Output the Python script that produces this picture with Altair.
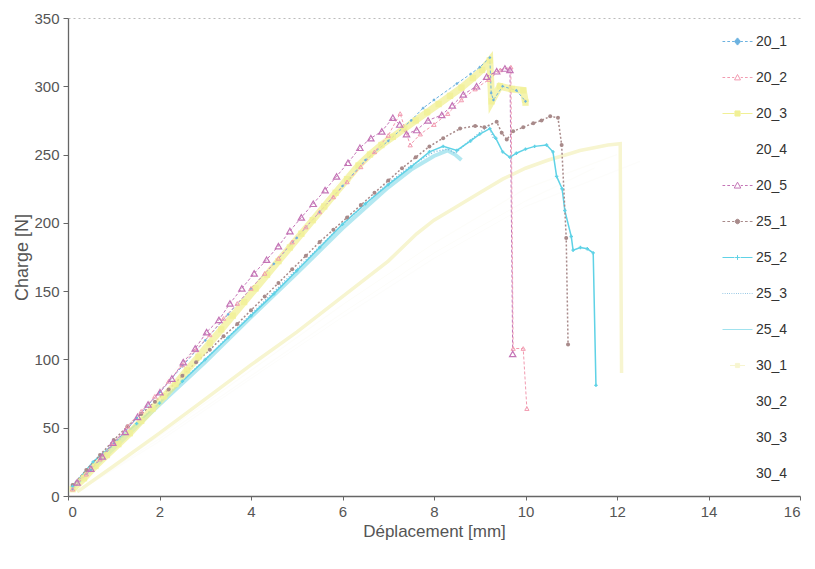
import altair as alt
import pandas as pd

series_names = ["20_1", "20_2", "20_3", "20_4", "20_5", "25_1", "25_2",
                "25_3", "25_4", "30_1", "30_2", "30_3", "30_4"]
series_colors = ["#6cb2e0", "#f29ab0", "#f1f096", "#fdfdf9", "#c474b6", "#a88a8a",
                 "#5fd2e6", "#7ab8dc", "#a0e2ee", "#f7f5d0", "#fdfdf9", "#fdfdfa", "#fdfdfb"]

# ---- series values ----
x_20_1 = [0.1, 0.5, 1.0, 1.5, 2.0, 2.5, 3.0, 3.5, 4.0, 4.5, 5.0, 5.5, 6.0, 6.5, 7.0, 7.5,
          7.76, 8.0, 8.5, 8.8, 9.0, 9.22, 9.25, 9.3, 9.5, 9.8, 10.0]
y_20_1 = [5, 19, 38, 57, 76, 95, 114, 133, 152, 170, 189, 208, 227, 246, 260, 275,
          284, 290, 302, 309, 314, 321, 295, 290, 300, 297, 289]

x_20_2 = [0.1, 0.4, 0.7, 1.0, 1.3, 1.6, 1.9, 2.2, 2.5, 2.8, 3.1, 3.4, 3.7, 4.0, 4.3, 4.6,
          4.9, 5.2, 5.5, 5.8, 6.1, 6.4, 6.7, 7.0, 7.26, 7.48, 7.7, 8.0, 8.3, 8.6, 8.9, 9.2,
          9.45, 9.68, 9.73, 9.95, 10.03]
y_20_2 = [5, 16, 27, 39, 51, 62, 73, 84, 96, 107, 118, 130, 141, 152, 163, 174,
          186, 197, 208, 219, 230, 241, 252, 264, 280, 257, 265, 272, 280, 290, 298, 305,
          312, 314, 108, 108, 64]

x_20_3 = [0.1, 0.35, 0.6, 0.85, 1.1, 1.35, 1.6, 1.85, 2.1, 2.35, 2.6, 2.85, 3.1, 3.35, 3.6,
          3.85, 4.1, 4.35, 4.6, 4.85, 5.1, 5.35, 5.6, 5.85, 6.1, 6.35, 6.6, 6.85, 7.1, 7.35,
          7.6, 7.85, 8.1, 8.35, 8.6, 8.85, 9.05, 9.22, 9.26, 9.44, 9.7, 9.95, 10.0]
y_20_3 = [5, 13, 22, 30, 38, 46, 55, 64, 73, 82, 92, 102, 112, 122, 132,
          142, 152, 162, 172, 182, 192, 202, 212, 222, 232, 242, 250, 257, 263, 269,
          275, 281, 287, 293, 299, 306, 312, 319, 289, 300, 298, 297, 288]

x_20_4 = [0.1, 1.0, 2.0, 3.0, 4.0, 5.0, 6.0, 7.0, 8.0, 9.0]
y_20_4 = [5, 40, 79, 118, 157, 196, 233, 265, 290, 312]

x_20_5 = [0.2, 0.5, 0.75, 0.98, 1.25, 1.52, 1.75, 2.01, 2.27, 2.52, 2.78, 3.03, 3.30, 3.54,
          3.80, 4.07, 4.34, 4.60, 4.85, 5.10, 5.36, 5.62, 5.87, 6.12, 6.38, 6.62, 6.86, 7.10,
          7.25, 7.40, 7.62, 7.87, 8.17, 8.40, 8.64, 8.93, 9.15, 9.37, 9.55, 9.66, 9.72]
y_20_5 = [10, 20, 29, 39, 47, 58, 67, 76, 86, 98, 108, 120, 129, 141,
          152, 163, 173, 183, 194, 204, 214, 224, 234, 244, 255, 262, 267, 277,
          272, 265, 268, 275, 279, 286, 294, 300, 307, 311, 313, 312, 104]

x_25_1 = [0.1, 0.4, 0.7, 1.0, 1.3, 1.6, 1.9, 2.2, 2.5, 2.8, 3.1, 3.4, 3.7, 4.0, 4.3, 4.6,
          4.9, 5.2, 5.5, 5.8, 6.1, 6.4, 6.7, 7.0, 7.3, 7.6, 7.9, 8.2, 8.57, 8.9, 9.1, 9.37,
          9.48, 9.59, 9.73, 9.95, 10.17, 10.35, 10.54, 10.71, 10.79, 10.89, 10.93]
y_25_1 = [8, 19, 30, 41, 51, 60, 69, 78, 88, 98, 107, 117, 126, 136, 146, 156,
          166, 176, 186, 195, 204, 213, 222, 231, 240, 248, 256, 262, 269, 271, 270, 274,
          266, 261, 267, 270, 273, 275, 278, 277, 257, 189, 111]

x_25_2 = [0.1, 0.55, 1.0, 1.5, 2.0, 2.5, 3.0, 3.5, 4.0, 4.5, 5.0, 5.5, 6.0, 6.5, 7.0, 7.5,
          7.9, 8.2, 8.5, 8.8, 9.0, 9.22, 9.35, 9.5, 9.66, 9.8, 10.0, 10.2, 10.46, 10.6, 10.68,
          10.8, 10.86, 11.0, 11.04, 11.2, 11.35, 11.48, 11.54]
y_25_2 = [7, 25, 38, 53, 68, 84, 100, 116, 132, 148, 165, 182, 199, 214, 228, 241,
          252, 256, 253, 260, 265, 269, 262, 252, 248, 251, 254, 256, 257, 252, 234,
          225, 209, 190, 180, 182, 181, 178, 81]

x_25_3 = [0.1, 1.0, 2.0, 3.0, 4.0, 5.0, 6.0, 7.0, 7.5, 8.0, 8.3, 8.46, 8.7, 9.0, 9.2, 9.3]
y_25_3 = [8, 37, 69, 100, 133, 166, 199, 229, 242, 252, 254, 251, 258, 266, 271, 262]

x_25_4 = [0.1, 1.0, 2.0, 3.0, 4.0, 5.0, 6.0, 7.0, 7.5, 8.0, 8.3, 8.46, 8.6]
y_25_4 = [6, 35, 67, 98, 131, 163, 196, 226, 239, 249, 253, 250, 246]

x_30_1 = [0.2, 1.0, 2.0, 3.0, 4.0, 5.0, 6.0, 7.0, 7.62, 8.0, 8.5, 9.0, 9.5, 10.0, 10.5,
          11.0, 11.19, 11.5, 11.8, 12.07, 12.1]
y_30_1 = [3, 22, 46, 71, 96, 120, 146, 172, 192, 202, 212, 222, 232, 240, 246,
          251, 253, 255, 257, 258, 90]

x_30_2 = [0.2, 2.0, 4.0, 6.0, 8.0, 10.0, 12.0]
y_30_2 = [4, 44, 92, 140, 185, 225, 250]
x_30_3 = [0.2, 2.0, 4.0, 6.0, 8.0, 10.0, 11.5]
y_30_3 = [3, 42, 88, 134, 178, 216, 240]
x_30_4 = [0.2, 2.0, 4.0, 6.0, 8.0, 10.0, 12.5]
y_30_4 = [3, 40, 86, 131, 174, 212, 245]

x_ticks = [0, 2, 4, 6, 8, 10, 12, 14, 16]
y_ticks = [0, 50, 100, 150, 200, 250, 300, 350]

# draw order: faint series first
ordered = [
    ("20_4", x_20_4, y_20_4), ("30_2", x_30_2, y_30_2), ("30_3", x_30_3, y_30_3),
    ("30_4", x_30_4, y_30_4), ("30_1", x_30_1, y_30_1), ("25_4", x_25_4, y_25_4),
    ("25_3", x_25_3, y_25_3), ("25_2", x_25_2, y_25_2), ("25_1", x_25_1, y_25_1),
    ("20_3", x_20_3, y_20_3), ("20_1", x_20_1, y_20_1), ("20_2", x_20_2, y_20_2),
    ("20_5", x_20_5, y_20_5),
]
rows = []
k = 0
for name, xs, ys in ordered:
    for a, b in zip(xs, ys):
        rows.append({"series": name, "x": a, "y": b, "i": k})
        k += 1
df = pd.DataFrame(rows)
col = dict(zip(series_names, series_colors))

FONT = "Liberation Sans"

line_dash = {"20_1": [3, 2], "20_2": [3, 2], "20_5": [3, 2], "25_1": [2, 2], "25_3": [1, 2]}
line_width = {"20_3": 7, "30_1": 3.5, "25_4": 4, "25_1": 1.5, "25_2": 1.5, "25_3": 1.5}
line_opacity = {"20_3": 0.75, "25_4": 0.8}

x_enc = alt.X("x:Q", scale=alt.Scale(domain=[0, 16], nice=False),
              axis=alt.Axis(values=x_ticks, title="Déplacement [mm]", grid=False,
                            labelFontSize=15, titleFontSize=17, labelPadding=4,
                            titlePadding=4, tickSize=4, titleFontWeight="normal"))
y_enc = alt.Y("y:Q", scale=alt.Scale(domain=[0, 350], nice=False),
              axis=alt.Axis(values=y_ticks, title="Charge [N]", labelFontSize=15,
                            titleFontSize=18, labelPadding=4, titlePadding=2, tickSize=5,
                            titleFontWeight="normal",
                            grid=True, gridDash=[2, 3], gridColor="#bbbbbb",
                            gridOpacity={"condition": {"test": "datum.value === 350", "value": 1},
                                         "value": 0}))

base = alt.Chart(df)

layers = []
for name, _, _ in ordered:
    kw = dict(clip=True, stroke=col[name], strokeWidth=line_width.get(name, 1),
              opacity=line_opacity.get(name, 1))
    if name in line_dash:
        kw["strokeDash"] = line_dash[name]
    layers.append(
        base.transform_filter(alt.datum.series == name).mark_line(**kw).encode(
            x=x_enc, y=y_enc, order="i:Q")
    )

def pts(name, shape, filled, size, sw=1.0, op=1.0):
    c = col[name]
    kw = dict(shape=shape, filled=filled, size=size, strokeWidth=sw, opacity=op)
    if filled:
        kw["fill"] = c
        kw["strokeWidth"] = 0
    else:
        kw["stroke"] = c
    return base.transform_filter(alt.datum.series == name).mark_point(**kw).encode(x=x_enc, y=y_enc)

layers += [
    pts("20_3", "square", True, 40, op=0.8),
    pts("25_1", "circle", True, 16),
    pts("25_2", "cross", True, 12),
    pts("20_1", "diamond", True, 10),
    pts("20_2", "triangle-up", False, 18, sw=1),
    pts("20_5", "triangle-up", False, 40, sw=1.2),
]

# legend symbols: short dashed line with a marker (Excel style)
dash_l = "M-1,0H-0.82M-0.68,0H-0.5M-0.36,0H-0.22"
dash_r = "M0.22,0H0.36M0.5,0H0.68M0.82,0H1"
legend_paths = [
    dash_l + dash_r + "M0,-0.24L0.2,0L0,0.24L-0.2,0Z",
    dash_l + dash_r + "M0,-0.2L0.2,0.16L-0.2,0.16Z",
    "M-1,0H-0.2M0.2,0H1M-0.17,-0.17H0.17V0.17H-0.17Z",
    "M-0.01,0H0.01",
    dash_l + dash_r + "M0,-0.22L0.22,0.17L-0.22,0.17Z",
    dash_l + dash_r + "M-0.15,0A0.15,0.15 0 1,0 0.15,0A0.15,0.15 0 1,0 -0.15,0Z",
    "M-1,0H-0.2M0.2,0H1M-0.16,0H0.16M0,-0.16V0.16",
    "M-1,0H-0.95M-0.85,0H-0.8M-0.7,0H-0.65M-0.55,0H-0.5M-0.4,0H-0.35M-0.25,0H-0.2M-0.1,0H-0.05"
    "M0.05,0H0.1M0.2,0H0.25M0.35,0H0.4M0.5,0H0.55M0.65,0H0.7M0.8,0H0.85M0.95,0H1",
    "M-1,0H1",
    "M-0.5,0H0.5M-0.14,-0.14H0.14V0.14H-0.14Z",
    "M-0.01,0H0.01",
    "M-0.01,0H0.01",
    "M-0.01,0H0.01",
]
legend_fills = [col["20_1"], "transparent", col["20_3"], "transparent", "transparent", col["25_1"],
                "transparent", "transparent", "transparent", col["30_1"], "transparent",
                "transparent", "transparent"]

leg = alt.Legend(title=None, orient="none", legendX=654, legendY=8, padding=0,
                 symbolSize=900, symbolStrokeWidth=1, labelFontSize=14, labelColor="#333333",
                 labelFont=FONT, labelOffset=3, rowPadding=13, symbolOpacity=1)

legend_df = pd.DataFrame({"series": series_names})
legend_layer = alt.Chart(legend_df).mark_point(filled=False, opacity=0, strokeWidth=1).encode(
    stroke=alt.Stroke("series:N", scale=alt.Scale(domain=series_names, range=series_colors), legend=leg),
    shape=alt.Shape("series:N", scale=alt.Scale(domain=series_names, range=legend_paths), legend=leg),
    fill=alt.Fill("series:N", scale=alt.Scale(domain=series_names, range=legend_fills), legend=leg),
)
layers.append(legend_layer)

chart = alt.layer(*layers).properties(
    width=732, height=478,
    autosize=alt.AutoSizeParams(type="none"),
    padding={"left": 60, "top": 10, "right": 7, "bottom": 50},
    background="white",
).configure_view(stroke=None).configure_axis(
    labelFont=FONT, titleFont=FONT, labelColor="#555555", titleColor="#555555",
    titleFontWeight="normal", domainColor="#666666", domainWidth=1.3,
    tickColor="#666666",
)

chart.save("out.html", embed_options={"renderer": "svg", "actions": False})
